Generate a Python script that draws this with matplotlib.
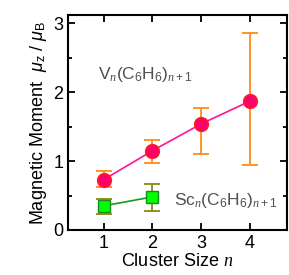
import matplotlib
matplotlib.use("Agg")
import matplotlib.pyplot as plt
from matplotlib.ticker import MultipleLocator

plt.rcParams['font.family'] = ['Liberation Sans', 'DejaVu Sans']
plt.rcParams['mathtext.fontset'] = 'custom'
plt.rcParams['mathtext.rm'] = 'Liberation Sans'
plt.rcParams['mathtext.it'] = 'Liberation Serif:italic'
plt.rcParams['mathtext.sf'] = 'Liberation Sans:italic'

# V_n(C6H6)_{n+1}
v_n = [1, 2, 3, 4]
v_mu = [0.73, 1.15, 1.54, 1.87]
v_lo = [0.62, 0.97, 1.11, 0.94]
v_hi = [0.85, 1.30, 1.77, 2.86]

# Sc_n(C6H6)_{n+1}
sc_n = [1, 2]
sc_mu = [0.35, 0.48]
sc_lo = [0.23, 0.28]
sc_hi = [0.45, 0.67]

fig = plt.figure(figsize=(2.89, 2.75), dpi=100)
ax = fig.add_axes([68 / 289, 45 / 275, 219 / 289, 215 / 275])

v_err = [[m - l for m, l in zip(v_mu, v_lo)], [h - m for m, h in zip(v_mu, v_hi)]]
sc_err = [[m - l for m, l in zip(sc_mu, sc_lo)], [h - m for m, h in zip(sc_mu, sc_hi)]]

ax.plot(v_n, v_mu, color='#ff1493', lw=1.2, zorder=2)
ax.errorbar(v_n, v_mu, yerr=v_err, fmt='none', ecolor='#ff8c1a', elinewidth=1.3,
            capsize=6, capthick=1.3, zorder=1)
ax.plot(v_n, v_mu, 'o', ms=10, mfc='#ff0066', mec='#ff2020', mew=1, zorder=3)

ax.plot(sc_n, sc_mu, color='#1a9a1a', lw=1.2, zorder=2)
ax.errorbar(sc_n, sc_mu, yerr=sc_err, fmt='none', ecolor='#8a8a10', elinewidth=1.3,
            capsize=6, capthick=1.3, zorder=1)
ax.plot(sc_n, sc_mu, 's', ms=9, mfc='#00ff00', mec='#1a8a1a', mew=1, zorder=3)

ax.text(0.88, 2.25, r'V$_{\mathit{n}}$(C$_6$H$_6$)$_{\mathit{n}+1}$', color='#505050',
        fontsize=12.5, va='center')
ax.text(2.45, 0.43, r'Sc$_{\mathit{n}}$(C$_6$H$_6$)$_{\mathit{n}+1}$', color='#505050',
        fontsize=12.5, va='center')

ax.set_xlim(0.27, 4.76)
ax.set_ylim(0, 3.12)
ax.set_xticks([1, 2, 3, 4])
ax.set_yticks([0, 1, 2, 3])
ax.yaxis.set_minor_locator(MultipleLocator(0.5))
ax.tick_params(which='both', direction='in', top=True, right=True, labelsize=13,
               width=1.3)
ax.tick_params(which='major', length=5)
ax.tick_params(which='minor', length=3)
for s in ax.spines.values():
    s.set_linewidth(1.5)

ax.set_xlabel('Cluster Size ' + r'$\mathit{n}$', fontsize=13, labelpad=1)
ax.set_ylabel(r'Magnetic Moment  $\mathsf{\mu}_\mathrm{z}$ / $\mathsf{\mu}_\mathrm{B}$',
              fontsize=13, labelpad=3)

fig.savefig('out.png', dpi=100)
